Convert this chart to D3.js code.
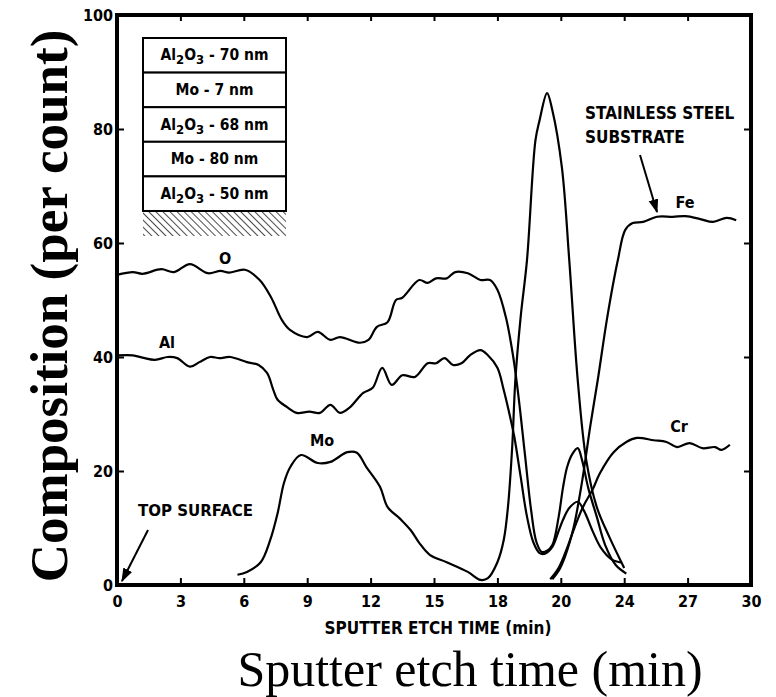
<!DOCTYPE html>
<html>
<head>
<meta charset="utf-8">
<script src="https://cdn.jsdelivr.net/npm/d3@7"></script>
<style>
html,body{margin:0;padding:0;background:#fff;}
svg{display:block;}
.narrow{font-family:"Liberation Sans Narrow","DejaVu Sans Condensed","Arial Narrow",sans-serif;font-weight:bold;}
</style>
</head>
<body>
<svg id="chart" width="776" height="697"></svg>
<script>
// ---------- data ----------
const xTickValues = [0, 3, 6, 9, 12, 15, 18, 21, 24, 27, 30];
const xTickLabels = ["0", "3", "6", "9", "12", "15", "18", "20", "24", "27", "30"];
const yTickValues = [0, 20, 40, 60, 80, 100];

const oTime = [0, 0.75, 1.2, 2.1, 2.7, 3.45, 4.3, 4.9, 5.3, 6.05, 6.75, 7.3, 7.8, 8.2, 9.0, 9.5, 10.1, 10.55, 11.5, 11.9, 12.3, 12.8, 13.2, 13.5, 14.3, 14.7, 15.1, 15.6, 16.0, 16.6, 17.2, 17.65, 18.0, 18.4, 18.75, 19.0, 19.3, 19.6, 19.85, 20.1, 20.35, 20.6, 20.9, 21.1, 21.3, 21.55, 21.8, 22.0, 22.3, 22.7, 23.1, 23.6, 24.1];
const oVal  = [54.4, 54.9, 54.6, 55.4, 54.9, 56.3, 54.7, 55.1, 54.8, 55.3, 53.5, 50.4, 46.5, 44.7, 43.5, 44.4, 43.0, 43.5, 42.5, 43.0, 45.3, 46.1, 50.0, 50.4, 53.5, 53.0, 53.8, 53.8, 54.9, 54.7, 53.5, 53.5, 51.8, 47.0, 40.0, 33, 23, 13, 7.5, 5.8, 6.0, 7.0, 12, 17, 20.7, 23, 24, 22, 17, 12, 7, 3.5, 2.0];

const alTime = [0.05, 0.75, 1.2, 1.8, 2.4, 2.85, 3.45, 3.9, 4.4, 4.85, 5.35, 6.15, 6.7, 7.1, 7.4, 7.6, 8.05, 8.5, 9.1, 9.6, 10.1, 10.55, 11.0, 11.65, 12.1, 12.55, 13.0, 13.5, 14.1, 14.7, 15.1, 15.5, 15.9, 16.3, 16.7, 17.2, 17.55, 18.0, 18.3, 18.6, 18.8, 19.1, 19.4, 19.7, 20.0, 20.25, 20.6, 20.9, 21.1, 21.4, 21.8, 22.1, 22.5, 22.9, 23.4, 23.9];
const alVal  = [40.3, 40.3, 39.9, 39.5, 40.0, 39.8, 38.3, 39.1, 40.0, 39.8, 40.0, 39.1, 38.6, 37.2, 34.2, 32.5, 31.2, 30.2, 30.4, 30.2, 31.6, 30.2, 31.1, 33.7, 34.6, 38.1, 35.1, 36.8, 36.5, 38.9, 38.9, 39.8, 38.6, 38.9, 40.3, 41.2, 40.3, 38.1, 34.2, 29.5, 26, 19, 12, 7.5, 5.6, 5.5, 6.7, 9.5, 11.4, 13.5, 14.6, 13, 9.5, 6.5, 4.5, 3.9];

const moTime = [5.7, 6.15, 6.8, 7.25, 7.6, 7.9, 8.2, 8.7, 9.5, 10.1, 10.9, 11.35, 11.8, 12.45, 12.8, 13.4, 13.9, 14.3, 14.8, 15.6, 16.6, 17.2, 17.55, 18.0, 18.3, 18.5, 18.7, 18.85, 19.1, 19.4, 19.8, 20.0, 20.35, 20.6, 21.05, 21.4, 21.8, 22.2, 22.7, 23.3, 24.0];
const moVal  = [1.8, 2.3, 4.0, 7.9, 12.6, 17.9, 20.7, 22.8, 21.4, 21.6, 23.3, 23.2, 20.7, 17.2, 13.7, 11.6, 9.6, 7.4, 5.3, 4.0, 2.3, 0.9, 1.2, 4.0, 7.9, 13.7, 24.2, 36, 47, 57, 78, 81.6, 86.3, 83.3, 73.3, 57, 36, 22, 13.7, 8.4, 3.0];

const feTime = [20.6, 20.9, 21.2, 21.6, 22.0, 22.4, 22.75, 23.2, 23.7, 24.05, 24.4, 24.9, 25.55, 26.3, 26.9, 27.6, 28.2, 28.85, 29.3];
const feVal  = [1.0, 2.5, 5, 10, 18, 28, 36, 47, 57, 62.3, 63.5, 63.7, 64.6, 64.6, 64.7, 64.2, 63.7, 64.4, 64.0];

const crTime = [20.5, 20.9, 21.3, 21.6, 22.05, 22.5, 22.85, 23.5, 24.1, 24.6, 25.4, 26.0, 26.5, 27.1, 27.7, 28.3, 28.6, 29.0];
const crVal  = [1.0, 3.0, 6.5, 9.6, 13.7, 16.7, 19.6, 23.3, 25.1, 25.8, 25.4, 25.1, 24.2, 24.9, 24.0, 24.2, 23.7, 24.6];

const layerLabels = [
  [["Al", ""], ["2", "sub"], ["O", ""], ["3", "sub"], [" - 70 nm", ""]],
  [["Mo - 7 nm", ""]],
  [["Al", ""], ["2", "sub"], ["O", ""], ["3", "sub"], [" - 68 nm", ""]],
  [["Mo - 80 nm", ""]],
  [["Al", ""], ["2", "sub"], ["O", ""], ["3", "sub"], [" - 50 nm", ""]]
];

// ---------- layout ----------
const svg = d3.select("#chart");
const L = 117, R = 751, T = 15, B = 585;
const x = d3.scaleLinear().domain([0, 30]).range([L, R]);
const y = d3.scaleLinear().domain([0, 100]).range([B, T]);

const defs = svg.append("defs");
const pat = defs.append("pattern").attr("id", "hatch").attr("patternUnits", "userSpaceOnUse")
  .attr("width", 5).attr("height", 5).attr("patternTransform", "rotate(-45)");
pat.append("line").attr("x1", 0).attr("y1", 0).attr("x2", 0).attr("y2", 5)
  .attr("stroke", "#000").attr("stroke-width", 1.4);

// axes
const gx = svg.append("g").attr("transform", `translate(0,${B})`)
  .call(d3.axisBottom(x).tickValues(xTickValues).tickSize(-7).tickPadding(11)
    .tickFormat((d, i) => xTickLabels[i]));
const gxt = svg.append("g").attr("transform", `translate(0,${T})`)
  .call(d3.axisTop(x).tickValues(xTickValues.slice(1, -1)).tickSize(-6).tickFormat(""));
const gy = svg.append("g").attr("transform", `translate(${L},0)`)
  .call(d3.axisLeft(y).tickValues(yTickValues).tickSize(-7).tickPadding(4));
const gyr = svg.append("g").attr("transform", `translate(${R},0)`)
  .call(d3.axisRight(y).tickValues(yTickValues.slice(1, -1)).tickSize(-7).tickFormat(""));
[gx, gxt, gy, gyr].forEach(g => {
  g.select(".domain").remove();
  g.selectAll(".tick line").attr("stroke", "#000").attr("stroke-width", 2);
  g.selectAll("text").attr("font-size", 16).attr("fill", "#000")
    .attr("font-family", '"Liberation Sans Narrow","DejaVu Sans Condensed",sans-serif')
    .attr("font-weight", "bold");
});

// frame
svg.append("rect").attr("x", L).attr("y", T).attr("width", R - L).attr("height", B - T)
  .attr("fill", "none").attr("stroke", "#000").attr("stroke-width", 4);

// curves
const line = d3.line().x(d => x(d[0])).y(d => y(d[1])).curve(d3.curveCatmullRom.alpha(0.5));
const series = [
  [oTime, oVal], [alTime, alVal], [moTime, moVal], [feTime, feVal], [crTime, crVal]
];
series.forEach(([t, v]) => {
  svg.append("path").datum(t.map((d, i) => [d, v[i]]))
    .attr("d", line).attr("fill", "none").attr("stroke", "#000")
    .attr("stroke-width", 2.2).attr("stroke-linejoin", "round");
});

// layer stack box
const bx = 143, bw = 143, by = 38, rh = 34.6;
svg.append("rect").attr("x", bx).attr("y", by + 5 * rh).attr("width", bw).attr("height", 25)
  .attr("fill", "url(#hatch)");
layerLabels.forEach((parts, i) => {
  svg.append("rect").attr("x", bx).attr("y", by + i * rh).attr("width", bw).attr("height", rh)
    .attr("fill", "#fff").attr("stroke", "#000").attr("stroke-width", 2);
  const t = svg.append("text").attr("class", "narrow").attr("x", bx + bw / 2)
    .attr("y", by + i * rh + rh / 2 + 5).attr("text-anchor", "middle").attr("font-size", 15.5);
  parts.forEach(([s, k]) => {
    const ts = t.append("tspan").text(s);
    if (k === "sub") ts.attr("baseline-shift", "-30%").attr("font-size", 13);
  });
});

// annotations
function label(txt, px, py, size, anchor) {
  return svg.append("text").attr("class", "narrow").attr("x", px).attr("y", py)
    .attr("font-size", size).attr("text-anchor", anchor || "middle").text(txt);
}
label("O", 225, 264, 16);
label("Al", 167, 348, 16);
label("Mo", 322, 446, 16);
label("Fe", 685, 208, 16);
label("Cr", 679, 432, 16);
label("TOP SURFACE", 138, 516, 16.7, "start");
label("STAINLESS STEEL", 585, 119, 17, "start");
label("SUBSTRATE", 585, 143, 17, "start");

defs.append("marker").attr("id", "arr").attr("viewBox", "0 0 10 10").attr("refX", 9).attr("refY", 5)
  .attr("markerWidth", 7).attr("markerHeight", 7).attr("orient", "auto")
  .append("path").attr("d", "M0,1.5 L10,5 L0,8.5 Z").attr("fill", "#000");
svg.append("line").attr("x1", 148).attr("y1", 530).attr("x2", 122).attr("y2", 581)
  .attr("stroke", "#000").attr("stroke-width", 2).attr("marker-end", "url(#arr)");
svg.append("line").attr("x1", 640).attr("y1", 155).attr("x2", 657).attr("y2", 212)
  .attr("stroke", "#000").attr("stroke-width", 2).attr("marker-end", "url(#arr)");

// axis titles
svg.append("text").attr("class", "narrow").attr("x", 438).attr("y", 634)
  .attr("text-anchor", "middle").attr("font-size", 17).text("SPUTTER ETCH TIME (min)");
svg.append("text").attr("x", 470).attr("y", 686).attr("text-anchor", "middle")
  .attr("font-family", '"Liberation Serif","Times New Roman",serif').attr("font-size", 50)
  .text("Sputter etch time (min)");
svg.append("text").attr("transform", "translate(67,306) rotate(-90)").attr("text-anchor", "middle")
  .attr("font-family", '"Liberation Serif","Times New Roman",serif').attr("font-weight", "bold")
  .attr("font-size", 53).text("Composition (per count)");
</script>
</body>
</html>
